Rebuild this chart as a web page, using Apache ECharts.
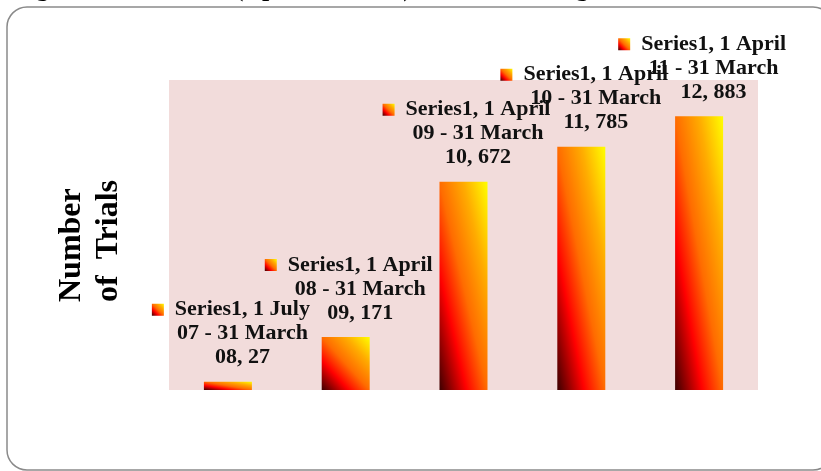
<!DOCTYPE html>
<html>
<head>
<meta charset="utf-8">
<script src="https://cdn.jsdelivr.net/npm/echarts@6/dist/echarts.min.js"></script>
<style>
  html, body { margin: 0; padding: 0; background: #fff; }
  #chart { width: 821px; height: 471px; }
</style>
</head>
<body>
<div id="chart"></div>
<script>
// data
const seriesName = 'Series1';
const categories = [
  '1 July 07 - 31 March 08',
  '1 April 08 - 31 March 09',
  '1 April 09 - 31 March 10',
  '1 April 10 - 31 March 11',
  '1 April 11 - 31 March 12'
];
const trials = [27, 171, 672, 785, 883];
const yMax = 1000;
const titleText = 'Figure 1: Year-wise (April \u2013 March) Number of Registered Trials';
const yName = 'Number\nof  Trials';

const BAR_W = 48;
const serif = '"Liberation Serif", "Times New Roman", serif';

// Excel-like "fire" gradient: dark red bottom-left to yellow top-right
const fireStops = [
  { offset: 0, color: '#3c0000' },
  { offset: 0.28, color: '#ff0000' },
  { offset: 0.5, color: '#ff6c00' },
  { offset: 0.75, color: '#ffac00' },
  { offset: 1, color: '#ffff00' }
];

// gradient stretched with the shape (r = height / width of the bar)
function fire(r) {
  const d = r * r + 1;
  return new echarts.graphic.LinearGradient(0, 1, 2 * r * r / d, 1 - 2 / d, fireStops);
}

function labelText(params) {
  const m = params.name.match(/^(\d+ \w+) (\d+ - \d+ \w+) (\d+)$/);
  return '{key|}{gap|}' + params.seriesName + ', ' + m[1] + '\n' +
    '{sp|}' + m[2] + '\n' +
    '{sp|}' + m[3] + ', ' + params.value;
}

const chart = echarts.init(document.getElementById('chart'));

const option = {
  animation: false,
  backgroundColor: '#fff',
  title: {
    text: titleText,
    left: 8,
    top: -29,
    textStyle: { fontFamily: serif, fontWeight: 'bold', fontSize: 26, color: '#000' }
  },
  graphic: [
    {
      type: 'rect',
      silent: true,
      shape: { x: 7, y: 7, width: 826, height: 463, r: 20 },
      style: { fill: 'none', stroke: '#8a8a8a', lineWidth: 1.5 }
    },
    {
      type: 'text',
      silent: true,
      x: 90,
      y: 302,
      rotation: Math.PI / 2,
      style: {
        text: yName,
        font: 'bold 32px ' + serif,
        fill: '#000',
        lineHeight: 37,
        textAlign: 'left',
        align: 'left',
        textVerticalAlign: 'middle',
        verticalAlign: 'middle'
      }
    }
  ],
  grid: {
    left: 169,
    right: 63,
    top: 80,
    bottom: 81,
    show: true,
    backgroundColor: '#f2dcdb',
    borderWidth: 0
  },
  xAxis: {
    type: 'category',
    data: categories,
    show: false
  },
  yAxis: {
    type: 'value',
    min: 0,
    max: yMax,
    show: false
  },
  series: [
    {
      name: seriesName,
      type: 'bar',
      barWidth: BAR_W,
      data: trials,
      itemStyle: { color: fire(1) },
      label: {
        show: true,
        position: 'top',
        distance: 12,
        offset: [3, 0],
        formatter: labelText,
        fontFamily: serif,
        fontWeight: 'bold',
        fontSize: 22,
        lineHeight: 24,
        color: '#111',
        align: 'center',
        rich: {
          key: {
            width: 12,
            height: 12,
            lineHeight: 24,
            verticalAlign: 'middle',
            backgroundColor: new echarts.graphic.LinearGradient(0, 1, 1, 0, fireStops)
          },
          gap: { width: 11, lineHeight: 24 },
          sp: { width: 23, lineHeight: 24 }
        }
      }
    }
  ]
};

chart.setOption(option);

// colour each bar from its drawn size, so the gradient stretches like the original
const yZero = chart.convertToPixel({ yAxisIndex: 0 }, 0);
const barData = trials.map(v => {
  const h = Math.max(1, yZero - chart.convertToPixel({ yAxisIndex: 0 }, v));
  return { value: v, itemStyle: { color: fire(h / BAR_W) } };
});
chart.setOption({ series: [{ data: barData }] });
</script>
</body>
</html>
